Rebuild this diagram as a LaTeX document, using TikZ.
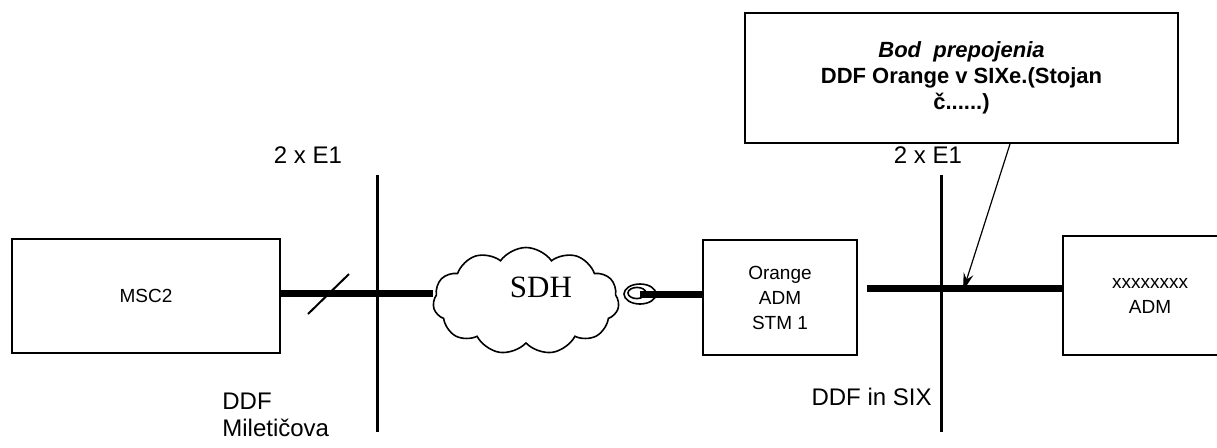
\documentclass[tikz,border=0pt]{standalone}
\usepackage{fontspec}
\setmainfont{Liberation Sans}
\newfontfamily\sdhfont{Liberation Serif}
\usetikzlibrary{shapes.symbols,arrows.meta}

\tikzset{
  blok/.style={draw,line width=1pt,align=center,font=\fontsize{9.5}{12.5}\selectfont},
  ddf/.style={line width=1.5pt},
  trasa/.style={line width=3.5pt},
  popis/.style={font=\fontsize{12}{13.5}\selectfont,inner sep=0pt}
}

\begin{document}
\begin{tikzpicture}[x=0.5pt,y=-0.5pt]
\useasboundingbox (0,0) rectangle (1217,447);
% bloky
\node[blok,minimum width=134pt,minimum height=57pt] (msc) at (146,296) {MSC2};
\node[blok,minimum width=77pt,minimum height=57.5pt] (orn) at (780,297.5) {Orange\\ADM\\STM 1};
\node[blok,minimum width=87pt,minimum height=59.5pt] (xadm) at (1150,295.5) {xxxxxxxx\\ADM};
\node[cloud,draw,line width=0.8pt,cloud puffs=11,cloud puff arc=110,aspect=1.9,
  minimum width=93pt,minimum height=53.5pt] (sdh) at (526,301) {};
\node[font=\sdhfont\fontsize{15.5}{17}\selectfont,inner sep=0pt] (sdhtxt) at (541,287) {SDH};
\node[draw,line width=1pt,minimum width=216.5pt,minimum height=65pt,align=center,
  font=\bfseries\fontsize{11}{13}\selectfont] (bod) at (961.5,78)
  {\textit{Bod\ \ prepojenia}\\DDF Orange v SIXe.(Stojan\\č......)};
% DDF
\coordinate (d1h) at (377,175); \coordinate (d1d) at (377,432);
\coordinate (d2h) at (941,175); \coordinate (d2d) at (941,432);
\draw[ddf] (d1h) -- (d1d);
\draw[ddf] (d2h) -- (d2d);
\node[popis] (e1a) at (308,155) {2 x E1};
\node[popis] (e1b) at (928,155) {2 x E1};
\node[popis,anchor=west,align=left] (mil) at (222,415) {DDF\\Miletičova};
\node[popis,anchor=east] (six) at (932,397) {DDF in SIX};
% trasy
\draw[trasa] (msc.east |- 0,293) -- (sdh.west |- 0,293);
\draw[line width=1pt] (308,314) -- (349,274);
\coordinate (cievka) at (640,294);
\draw[line width=0.8pt] (cievka) ellipse (8pt and 5pt);
\draw[line width=0.8pt] (646,293) arc (0:300:4.5pt and 2.8pt);
\draw[trasa] (cievka) -- (orn.west |- 0,294);
\coordinate (zac) at (867,288);
\draw[trasa] (zac) -- (xadm.west |- 0,288);
% sipka
\coordinate (hrot) at (963,291);
\draw[line width=0.6pt,-{Stealth[length=9pt,width=5pt]}] (bod.south -| 1010,0) -- (hrot);
\end{tikzpicture}
\end{document}
